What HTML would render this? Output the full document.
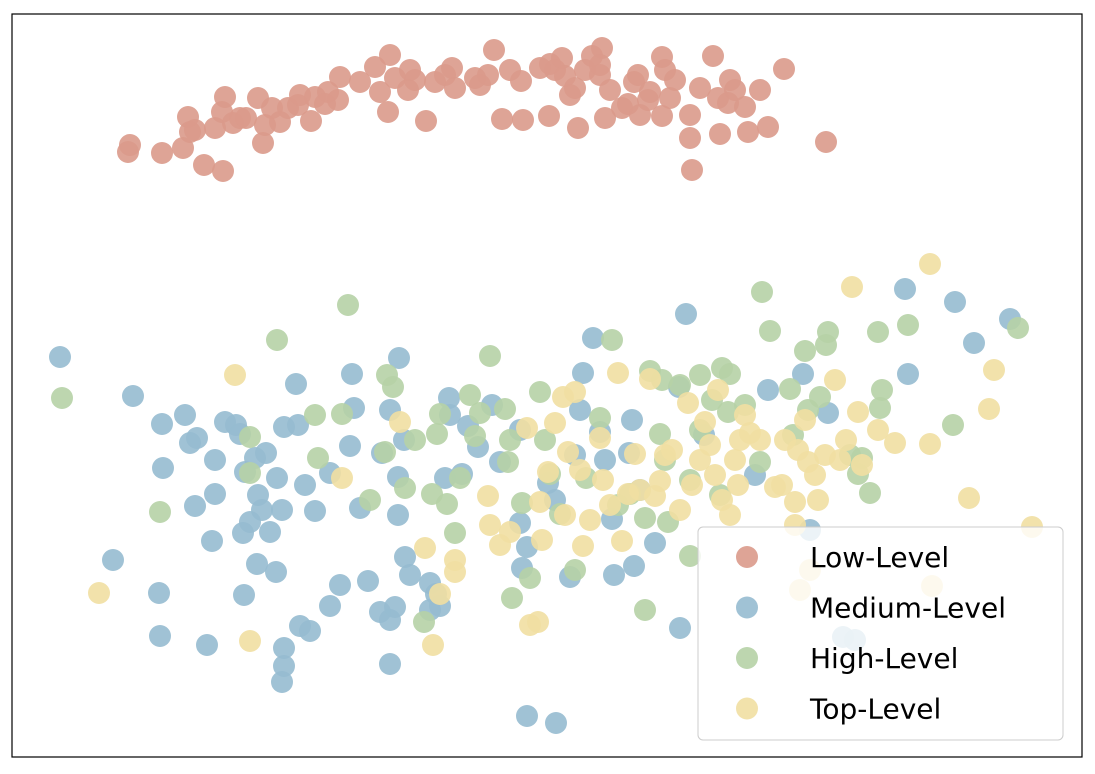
<!DOCTYPE html>
<html><head><meta charset="utf-8"><style>
body{margin:0;background:#fff;}
svg{display:block;font-family:"DejaVu Sans","Liberation Sans",sans-serif;}
</style></head><body>
<svg id="chart" width="1095" height="774">
<rect x="12" y="14" width="1070" height="743" fill="#fff" stroke="#000" stroke-width="1.2"/>
<g id="marks"></g>
<g id="legend">
<rect x="698" y="527" width="365" height="213" rx="5" fill="#fff" fill-opacity="0.8" stroke="#ccc"/>
</g>
</svg>
<script>
const seriesNames = ["Low-Level","Medium-Level","High-Level","Top-Level"];
const seriesColors = ["#da9a8b","#96bbd0","#b6d2a6","#f1df a2".replace(" ","")];
const lowX=[128,130,162,183,190,188,195,204,223,215,222,225,233,240,246,258,263,265,272,280,288,298,311,315,328,325,338,340,360,375,388,380,390,395,408,415,426,435,445,452,455,480,488,494,502,510,521,523,549,550,555,562,565,570,575,578,585,592,600,602,605,610,622,628,634,638,640,648,650,662,665,662,670,675,690,692,700,713,718,720,728,735,745,748,760,768,784,826,690,730,600,540,475,410,300];
const lowY=[152,145,153,148,132,117,130,165,171,128,112,97,123,118,118,98,143,125,108,122,108,105,121,97,92,104,100,77,82,67,112,92,55,78,90,80,121,82,75,68,88,85,75,50,119,70,81,120,116,64,70,58,76,95,88,128,70,56,75,48,118,90,108,104,82,75,115,100,92,57,70,116,98,80,138,170,88,56,98,134,103,90,107,132,90,127,69,142,115,80,65,68,78,70,95];
const medX=[60,133,162,185,190,197,163,215,225,236,245,240,255,266,258,262,250,243,212,215,195,277,282,270,284,298,296,305,315,330,350,354,352,360,382,390,399,398,404,398,405,410,430,445,449,450,462,468,478,492,500,520,520,522,527,548,555,570,575,580,583,593,600,605,612,629,632,640,614,634,655,686,679,680,704,755,768,803,828,905,908,955,974,1010,113,159,160,207,244,257,276,284,284,282,300,310,330,340,368,380,390,395,390,430,440,436,527,556,843,855,810];
const medY=[357,396,424,415,443,438,468,460,422,425,472,434,458,453,495,510,522,533,541,494,506,478,510,532,427,425,384,485,511,473,446,408,374,508,453,410,358,477,440,515,557,575,583,478,398,415,474,426,447,405,462,430,523,568,547,483,500,577,455,410,373,338,432,460,519,453,420,490,575,566,543,314,387,628,435,475,390,374,413,289,374,302,343,319,560,593,636,645,595,564,572,648,666,682,626,631,606,585,581,612,620,607,664,610,606,594,716,723,637,640,530];
const highX=[62,160,250,250,277,315,318,342,348,370,385,387,393,405,415,424,432,437,440,447,455,460,470,475,480,490,505,508,510,512,522,530,540,545,550,560,575,586,600,612,618,630,645,645,650,662,668,690,700,712,722,730,728,745,762,770,790,793,805,808,820,826,828,850,858,862,870,878,882,880,908,953,1018,690,700,760,660,665,720,680];
const highY=[398,512,437,473,340,415,458,414,305,500,452,375,387,488,440,622,494,434,414,504,533,478,395,436,413,356,409,462,440,598,503,578,392,440,474,514,570,478,418,340,505,494,518,610,371,380,522,556,375,400,368,374,412,405,292,331,389,435,351,410,397,345,332,455,474,458,493,332,390,408,325,425,328,480,430,462,434,460,495,385];
const topX=[99,235,250,342,400,425,433,440,455,455,488,490,500,510,527,530,538,540,542,548,555,563,565,568,575,580,583,590,600,603,610,618,622,628,635,640,650,655,660,665,672,680,688,692,700,705,710,715,718,722,730,735,738,740,745,750,760,775,782,785,795,795,798,805,808,815,818,825,835,840,846,852,858,862,878,895,930,930,969,989,994,1032,932,800,810];
const topY=[593,375,641,478,422,548,645,594,560,572,496,525,545,532,428,625,622,502,540,472,423,397,515,452,392,470,546,520,438,480,505,373,541,494,454,490,379,496,481,455,450,510,403,485,460,422,445,475,390,500,515,460,485,440,415,433,440,487,485,440,502,525,450,420,462,475,500,455,380,460,440,287,412,465,430,443,264,444,498,409,370,527,586,590,570];
const xDomain=[0,1095], yDomain=[0,774];
function xScale(v){return (v-xDomain[0])/(xDomain[1]-xDomain[0])*1095;}
function yScale(v){return (v-yDomain[0])/(yDomain[1]-yDomain[0])*774;}
const NS="http://www.w3.org/2000/svg";
const marks=document.getElementById('marks');
const allX=[lowX,medX,highX,topX], allY=[lowY,medY,highY,topY];
const slug=["low","medium","high","top"];
allX.forEach((xs,s)=>{
  const g=document.createElementNS(NS,'g');
  
  
  xs.forEach((xv,i)=>{
    const c=document.createElementNS(NS,'circle');
    c.setAttribute('cx',xScale(xv));
    c.setAttribute('cy',yScale(allY[s][i]));
    c.setAttribute('r',11);
    c.setAttribute('fill',seriesColors[s]);
    c.setAttribute('fill-opacity',0.9);
    
    
    g.appendChild(c);
  });
  marks.appendChild(g);
});
const legend=document.getElementById('legend');
seriesNames.forEach((n,i)=>{
  const y=557+i*50.5;
  const c=document.createElementNS(NS,'circle');
  c.setAttribute('cx',747);c.setAttribute('cy',y);c.setAttribute('r',11);
  c.setAttribute('fill',seriesColors[i]);c.setAttribute('fill-opacity',0.9);
  
  
  legend.appendChild(c);
  const t=document.createElementNS(NS,'text');
  t.setAttribute('x',810);t.setAttribute('y',y+10);
  t.setAttribute('font-size','28');t.setAttribute('fill','#000');
  t.textContent=n;
  
  
  legend.appendChild(t);
});
</script>
</body></html>
